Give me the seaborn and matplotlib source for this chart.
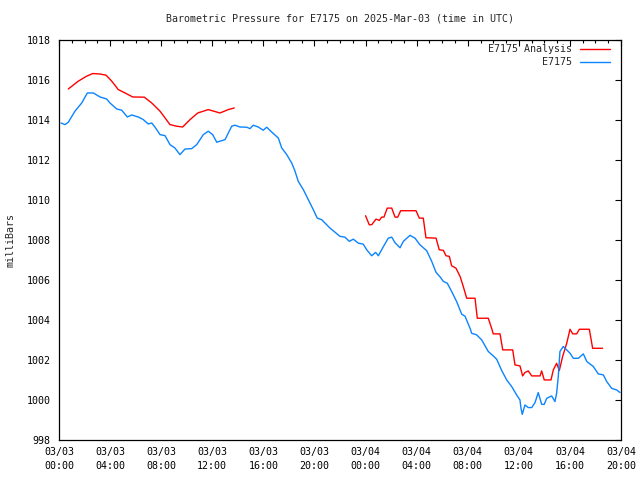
import numpy as np
import pandas as pd
import matplotlib
matplotlib.use("Agg")
import matplotlib.pyplot as plt
import matplotlib.dates as mdates
import seaborn as sns

# ---- data (hours after 2025-03-03 00:00 UTC, pressure in mb) ----
obs_hours = [0.16, 0.47, 0.73, 1.25, 1.78, 2.22, 2.69, 3.21, 3.73, 3.99, 4.52, 4.91, 5.35, 5.69,
             6.21, 6.60, 6.99, 7.26, 7.52, 7.91, 8.30, 8.69, 9.08, 9.47, 9.86, 10.39, 10.78, 11.30,
             11.69, 12.03, 12.35, 12.74, 13.00, 13.52, 13.78, 14.17, 14.70, 14.95, 15.21, 15.60,
             15.99, 16.26, 16.65, 17.17, 17.44, 17.83, 18.22, 18.48, 18.73, 19.13, 19.52, 19.91,
             20.22, 20.57, 21.22, 22.00, 22.39, 22.73, 23.04, 23.43, 23.82, 24.09, 24.48, 24.79,
             25.00, 25.39, 25.78, 26.05, 26.31, 26.70, 26.96, 27.48, 27.87, 28.26, 28.79, 29.18,
             29.52, 29.83, 30.09, 30.40, 30.74, 31.14, 31.53, 31.79, 32.18, 32.31, 32.70, 33.09,
             33.61, 34.00, 34.27, 34.66, 35.05, 35.44, 35.83, 36.09, 36.17, 36.27, 36.48, 36.74,
             37.01, 37.27, 37.52, 37.79, 37.99, 38.18, 38.57, 38.83, 38.96, 39.09, 39.22, 39.48,
             39.75, 40.01, 40.27, 40.66, 41.05, 41.32, 41.83, 42.22, 42.62, 42.88, 43.27, 43.66,
             43.92]
obs_values = [1013.83, 1013.75, 1013.87, 1014.42, 1014.83, 1015.33, 1015.33, 1015.13, 1015.03,
              1014.83, 1014.53, 1014.47, 1014.13, 1014.23, 1014.13, 1014.0, 1013.78, 1013.83,
              1013.62, 1013.25, 1013.2, 1012.75, 1012.58, 1012.25, 1012.53, 1012.55, 1012.75,
              1013.25, 1013.42, 1013.25, 1012.87, 1012.95, 1013.0, 1013.67, 1013.72, 1013.63,
              1013.62, 1013.55, 1013.72, 1013.63, 1013.47, 1013.62, 1013.38, 1013.08, 1012.58,
              1012.25, 1011.83, 1011.42, 1010.92, 1010.5, 1010.0, 1009.5, 1009.08, 1009.0,
              1008.58, 1008.17, 1008.13, 1007.92, 1008.03, 1007.83, 1007.78, 1007.5, 1007.2,
              1007.37, 1007.2, 1007.65, 1008.08, 1008.13, 1007.85, 1007.6, 1007.92, 1008.22,
              1008.08, 1007.75, 1007.45, 1006.92, 1006.37, 1006.15, 1005.92, 1005.83, 1005.42,
              1004.9, 1004.28, 1004.18, 1003.58, 1003.33, 1003.25, 1003.0, 1002.42, 1002.2,
              1002.03, 1001.47, 1001.0, 1000.67, 1000.25, 1000.0, 999.58, 999.28, 999.75,
              999.62, 999.62, 999.87, 1000.37, 999.78, 999.78, 1000.08, 1000.2, 999.92, 1000.33,
              1001.17, 1002.42, 1002.67, 1002.5, 1002.33, 1002.08, 1002.08, 1002.3, 1001.92,
              1001.67, 1001.3, 1001.25, 1000.92, 1000.58, 1000.5, 1000.37]

ana1_hours = [0.73, 1.51, 2.17, 2.64, 3.16, 3.68, 4.13, 4.64, 5.17, 5.77, 6.68, 7.26, 7.91, 8.69,
              9.21, 9.68, 10.26, 10.86, 11.69, 12.60, 13.25, 13.72]
ana1_values = [1015.53, 1015.92, 1016.17, 1016.3, 1016.28, 1016.22, 1015.92, 1015.5, 1015.33,
               1015.13, 1015.12, 1014.83, 1014.42, 1013.75, 1013.67, 1013.63, 1014.0, 1014.33,
               1014.5, 1014.33, 1014.5, 1014.58]

ana2_hours = [24.00, 24.29, 24.48, 24.82, 25.08, 25.26, 25.44, 25.70, 26.05, 26.31, 26.52, 26.75,
              27.95, 28.21, 28.52, 28.73, 29.52, 29.77, 30.09, 30.30, 30.56, 30.74, 31.08, 31.40,
              31.65, 31.92, 32.57, 32.75, 33.61, 33.87, 34.00, 34.53, 34.74, 35.52, 35.70, 36.09,
              36.30, 36.48, 36.74, 37.01, 37.66, 37.79, 37.99, 38.52, 38.70, 38.96, 39.17, 39.43,
              39.75, 40.01, 40.22, 40.53, 40.74, 41.52, 41.78, 42.56]
ana2_values = [1009.2, 1008.75, 1008.75, 1009.03, 1008.97, 1009.13, 1009.13, 1009.58, 1009.58,
               1009.13, 1009.13, 1009.45, 1009.45, 1009.08, 1009.08, 1008.1, 1008.08, 1007.5,
               1007.47, 1007.2, 1007.17, 1006.7, 1006.58, 1006.17, 1005.67, 1005.08, 1005.08,
               1004.08, 1004.08, 1003.58, 1003.3, 1003.3, 1002.5, 1002.5, 1001.75, 1001.7,
               1001.2, 1001.37, 1001.45, 1001.2, 1001.2, 1001.45, 1001.0, 1001.0, 1001.5,
               1001.83, 1001.47, 1002.17, 1002.83, 1003.53, 1003.3, 1003.3, 1003.53, 1003.53,
               1002.58, 1002.58]

y_ticks = [998, 1000, 1002, 1004, 1006, 1008, 1010, 1012, 1014, 1016, 1018]
title = "Barometric Pressure for E7175 on 2025-Mar-03 (time in UTC)"
ylabel = "milliBars"

start = pd.Timestamp("2025-03-03 00:00")


def to_df(hours, vals):
    return pd.DataFrame({"time": start + pd.to_timedelta(hours, unit="h"), "p": vals})


sns.set_theme(style="white")
plt.rcParams["font.family"] = ["DejaVu Sans Mono", "DejaVu Sans"]
plt.rcParams["font.size"] = 7.2

fig = plt.figure(figsize=(6.4, 4.8), dpi=100)
ax = fig.add_axes([59 / 640, 40 / 480, 562 / 640, 400.5 / 480])

red = "#ff0000"
blue = "#0a84ff"
sns.lineplot(data=to_df(ana1_hours, ana1_values), x="time", y="p", ax=ax, color=red,
             linewidth=1.0, label="E7175 Analysis")
sns.lineplot(data=to_df(ana2_hours, ana2_values), x="time", y="p", ax=ax, color=red,
             linewidth=1.0, label="_nolegend_")
sns.lineplot(data=to_df(obs_hours, obs_values), x="time", y="p", ax=ax, color=blue,
             linewidth=1.0, label="E7175")

ax.set_xlim(start, start + pd.Timedelta(hours=44))
ax.set_ylim(998, 1018)
ax.set_yticks(y_ticks)
ax.set_yticklabels([str(v) for v in y_ticks])
ax.xaxis.set_major_locator(mdates.HourLocator(byhour=range(0, 24, 4)))
ax.xaxis.set_minor_locator(mdates.HourLocator())
ax.xaxis.set_major_formatter(mdates.DateFormatter("%m/%d\n%H:%M"))
for lab in ax.get_xticklabels():
    lab.set_linespacing(1.55)

ax.tick_params(which="both", direction="in", top=True, right=True, colors="black",
               labelsize=7.2)
ax.tick_params(which="major", length=4.5, width=0.8, pad=5)
ax.tick_params(which="minor", length=2.3, width=0.8)
ax.tick_params(axis="y", pad=6)
for s in ax.spines.values():
    s.set_color("black")
    s.set_linewidth(0.9)

ax.set_xlabel("")
ax.set_ylabel(ylabel, fontsize=7.2, labelpad=8)
ax.set_title(title, fontsize=7.2, pad=13)

leg = ax.legend(loc="upper right", frameon=False, markerfirst=False, handlelength=3.0,
                handletextpad=0.8, borderaxespad=0.1, labelspacing=0.25, fontsize=7.2,
                bbox_to_anchor=(0.99, 1.0))

fig.savefig("out.png", dpi=100)
